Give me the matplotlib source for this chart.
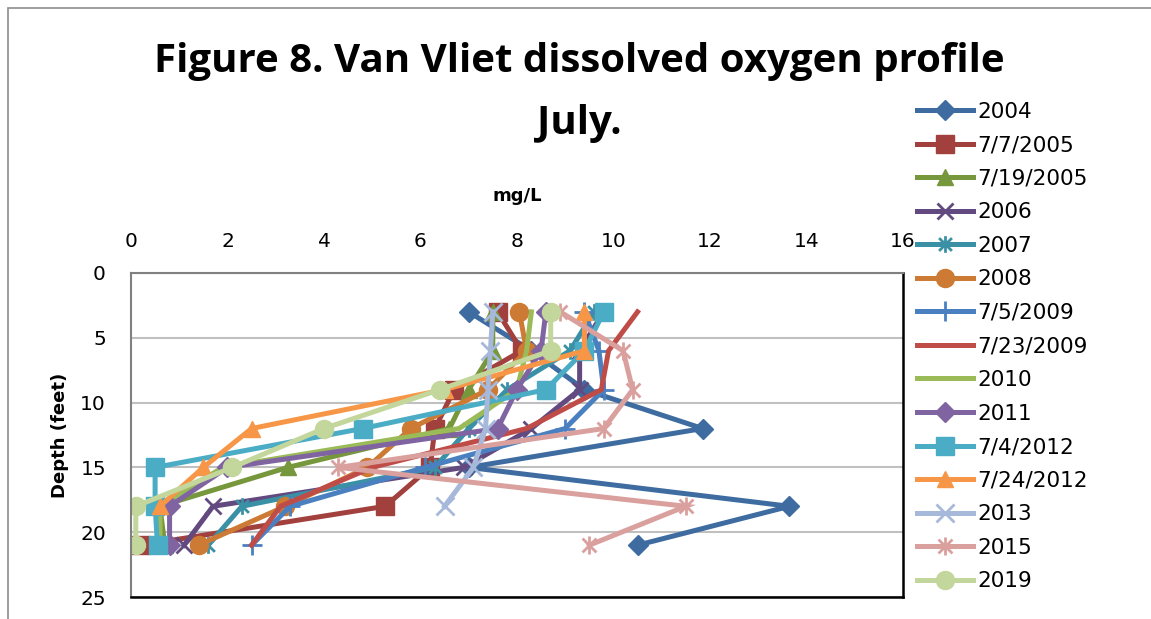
import matplotlib
matplotlib.use('Agg')
from matplotlib import pyplot as plt
from matplotlib.patches import Rectangle
from matplotlib.path import Path

depths = [3, 6, 9, 12, 15, 18, 21]

labels = ['2004', '7/7/2005', '7/19/2005', '2006', '2007', '2008', '7/5/2009',
          '7/23/2009', '2010', '2011', '7/4/2012', '7/24/2012', '2013', '2015', '2019']

do_2004 = [7.0, 8.3, 9.4, 11.85, 7.0, 13.65, 10.5]
do_2005a = [7.6, 8.1, 6.7, 6.3, 6.2, 5.27, 0.2]
do_2005b = [7.5, 7.5, 7.0, 6.6, 3.25, 0.6, 0.7]
do_2006 = [9.8, 9.3, 9.3, 8.3, 6.9, 1.7, 1.1]
do_2007 = [9.6, 9.1, 7.8, 7.0, 6.3, 2.3, 1.6]
do_2008 = [8.05, 8.2, 7.4, 5.8, 4.9, 3.2, 1.4]
do_2009a = [9.4, 9.7, 9.8, 9.0, 6.1, 3.3, 2.5]
do_2009b = [10.5, 9.9, 9.75, 8.2, 5.0, 3.1, 2.5]
do_2010 = [8.3, 8.2, 8.0, 6.8, 1.9, 0.6, 0.6]
do_2011 = [8.6, 8.5, 8.0, 7.6, 2.0, 0.8, 0.8]
do_2012a = [9.8, 9.4, 8.6, 4.8, 0.5, 0.5, 0.55]
do_2012b = [9.4, 9.4, 6.5, 2.5, 1.5, 0.6]
do_2013 = [7.5, 7.45, 7.4, 7.35, 7.1, 6.5]
do_2015 = [8.9, 10.2, 10.4, 9.8, 4.3, 11.5, 9.5]
do_2019 = [8.7, 8.7, 6.4, 4.0, 2.1, 0.1, 0.1]

series = [do_2004, do_2005a, do_2005b, do_2006, do_2007, do_2008, do_2009a,
          do_2009b, do_2010, do_2011, do_2012a, do_2012b, do_2013, do_2015, do_2019]

# excel style asterisk: an X with a vertical bar
star = Path([(-1, -1), (1, 1), (-1, 1), (1, -1), (0, -1.3), (0, 1.3)],
            [Path.MOVETO, Path.LINETO, Path.MOVETO, Path.LINETO, Path.MOVETO, Path.LINETO])

colors = ['#3E6CA1', '#A2403D', '#77973C', '#624A80', '#3A91A6', '#CC7A34', '#4A80C0',
          '#C04C48', '#9BBB59', '#8064A2', '#4BACC6', '#F79646', '#A7B9DA', '#D9A09E', '#C3D69B']
markers = ['D', 's', '^', 'x', star, 'o', '+', None, None, 'D', 's', '^', 'x', star, 'o']
msizes = [10, 13, 12, 12, 12, 13, 14, 0, 0, 10, 13, 12, 13, 13, 13]

fig = plt.figure(figsize=(11.51, 6.19), dpi=100)
fig.patches.append(Rectangle((0.007, -0.1), 1.1, 1.087, transform=fig.transFigure,
                             fill=False, edgecolor='#8C8C8C', linewidth=1.2))

ax = fig.add_axes([0.1138, 0.0355, 0.6706, 0.5235])

for vals, lab, c, m, ms in zip(series, labels, colors, markers, msizes):
    thin = m is star or m in ('x', '+')
    ax.plot(vals, depths[:len(vals)], color=c, marker=m, markersize=ms,
            markeredgewidth=2 if thin else 1, markerfacecolor=c,
            markeredgecolor=c, linewidth=3.6, label=lab, solid_joinstyle='miter')

ax.set_xlim(0, 16)
ax.set_ylim(25, 0)
ax.set_xticks(range(0, 17, 2))
ax.set_yticks(range(0, 26, 5))
ax.xaxis.tick_top()
ax.xaxis.set_label_position('top')
ax.tick_params(length=0, labelsize=14.5)
ax.tick_params(axis='x', pad=16)
ax.tick_params(axis='y', pad=18)
ax.yaxis.grid(True, color='#C0C0C0', linewidth=1.5)
ax.set_axisbelow(True)
for s in ['top', 'left']:
    ax.spines[s].set_color('#808080')
    ax.spines[s].set_linewidth(1.5)
for s in ['bottom', 'right']:
    ax.spines[s].set_color('black')
    ax.spines[s].set_linewidth(1.8)

ax.set_xlabel('mg/L', fontsize=13, fontweight='bold', labelpad=22)
ax.set_ylabel('Depth (feet)', fontsize=13, fontweight='bold', labelpad=8)

fig.text(0.503, 0.90, 'Figure 8. Van Vliet dissolved oxygen profile', ha='center', va='center',
         fontsize=29, fontweight='bold', family='Open Sans')
fig.text(0.503, 0.80, 'July.', ha='center', va='center',
         fontsize=29, fontweight='bold', family='Open Sans')

fig.legend(loc='upper left', bbox_to_anchor=(0.797, 0.836), frameon=False, fontsize=15.5,
           handlelength=2.6, labelspacing=0.63, handletextpad=0.2, borderaxespad=0.0,
           borderpad=0.0)

fig.savefig('out.png', dpi=100)
